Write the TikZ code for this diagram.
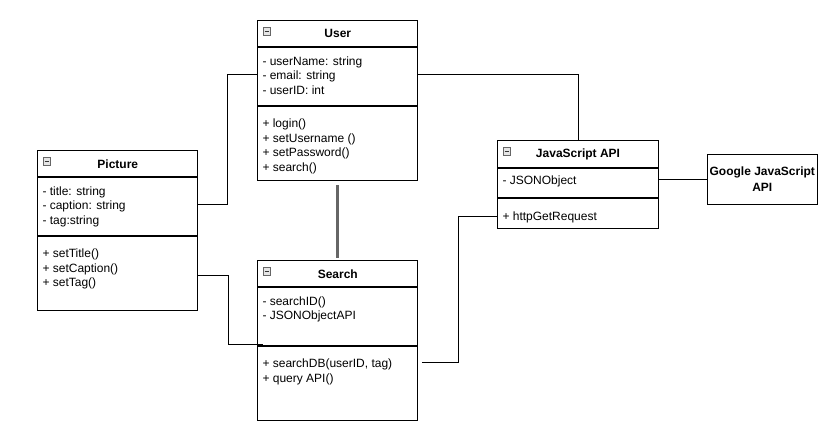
\documentclass[tikz,border=0pt]{standalone}
\usepackage{fontspec}
\setmainfont{Liberation Sans}
\usepackage{tikz}

\begin{document}
\tikzset{
  part/.style={draw=black,line width=1pt,minimum width=160pt,anchor=north west,inner sep=0pt},
  head/.style={part,minimum height=26pt,font=\bfseries\fontsize{12}{14}\selectfont},
  members/.style={anchor=north west,align=left,inner sep=0pt,font=\fontsize{12}{14.5}\selectfont},
  fold/.style={draw=gray!80!black,fill=gray!20,minimum width=7.5pt,minimum height=7.5pt,inner sep=0pt,
    path picture={\draw[line width=1.2pt,black!80] ([xshift=1.6pt]path picture bounding box.west) -- ([xshift=-1.6pt]path picture bounding box.east);}},
  link/.style={draw=black,line width=1pt},
}
\begin{tikzpicture}[x=1pt,y=-1pt]
    \useasboundingbox (0,0) rectangle (830,429);

    % User
    \node[head] (userHead) at (257.3,20.3) {User};
    \node[part,minimum height=58pt] (userAttr) at (userHead.south west) {};
    \node[part,minimum height=74pt] (userOps) at (userAttr.south west) {};
    \node[fold] (userFold) at ([shift={(9.5pt,-11pt)}]userHead.north west) {};
    \node[members] (userAttrText) at ([shift={(5pt,-7.5pt)}]userAttr.north west)
        {\strut- userName: string\\- email: string\\- userID: int};
    \node[members] (userOpsText) at ([shift={(5pt,-11.3pt)}]userOps.north west)
        {\strut+ login()\\+ setUsername ()\\+ setPassword()\\+ search()};

    % Picture
    \node[head] (picHead) at (37.3,150.3) {Picture};
    \node[part,minimum height=58pt] (picAttr) at (picHead.south west) {};
    \node[part,minimum height=74pt] (picOps) at (picAttr.south west) {};
    \node[fold] (picFold) at ([shift={(9.5pt,-11pt)}]picHead.north west) {};
    \node[members] (picAttrText) at ([shift={(5pt,-7.5pt)}]picAttr.north west)
        {\strut- title: string\\- caption: string\\- tag:string};
    \node[members] (picOpsText) at ([shift={(5pt,-11.3pt)}]picOps.north west)
        {\strut+ setTitle()\\+ setCaption()\\+ setTag()};

    % Search
    \node[head] (searchHead) at (257.3,260.3) {Search};
    \node[part,minimum height=58pt] (searchAttr) at (searchHead.south west) {};
    \node[part,minimum height=74pt] (searchOps) at (searchAttr.south west) {};
    \node[fold] (searchFold) at ([shift={(9.5pt,-11pt)}]searchHead.north west) {};
    \node[members] (searchAttrText) at ([shift={(5pt,-7.5pt)}]searchAttr.north west)
        {\strut- searchID()\\- JSONObjectAPI};
    \node[members] (searchOpsText) at ([shift={(5pt,-11.3pt)}]searchOps.north west)
        {\strut+ searchDB(userID, tag)\\+ query API()};

    % JavaScript API
    \node[head,minimum width=160.4pt,minimum height=26.4pt] (jsHead) at (497.3,140.3) {JavaScript API};
    \node[part,minimum width=160.4pt,minimum height=29.6pt] (jsAttr) at (jsHead.south west) {};
    \node[part,minimum width=160.4pt,minimum height=29.4pt] (jsOps) at (jsAttr.south west) {};
    \node[fold] (jsFold) at ([shift={(9.5pt,-11pt)}]jsHead.north west) {};
    \node[members] (jsAttrText) at ([shift={(5pt,-6.2pt)}]jsAttr.north west) {\strut- JSONObject};
    \node[members] (jsOpsText) at ([shift={(5pt,-11.5pt)}]jsOps.north west) {\strut+ httpGetRequest};

    % Google
    \node[draw=black,line width=1pt,minimum width=110pt,minimum height=49.7pt,inner sep=0pt,align=center,
        font=\bfseries\fontsize{12}{15.5}\selectfont] (google) at (762.3,179.2) {Google JavaScript\\API};

    % links
    \draw[link] ([yshift=2pt]userAttr.west) -- ++(-30,0) |- ([yshift=2.6pt]picAttr.east);
    \draw[link] ([yshift=2pt]userAttr.east) -| (jsHead.north);
    \draw[line width=3pt,black!60] ([yshift=-4pt]userOps.south) -- ([yshift=2pt]searchHead.north);
    \draw[link] ([yshift=-2pt]picOps.east) -- ++(30,0) |- ([shift={(6pt,2pt)}]searchAttr.south west);
    \draw[link] ([shift={(3.5pt,21pt)}]searchOps.east) -- ++(36.6,0) |- ([yshift=-2.7pt]jsOps.west);
    \draw[link] (jsAttr.east |- google.west) -- (google.west);
\end{tikzpicture}
\end{document}
